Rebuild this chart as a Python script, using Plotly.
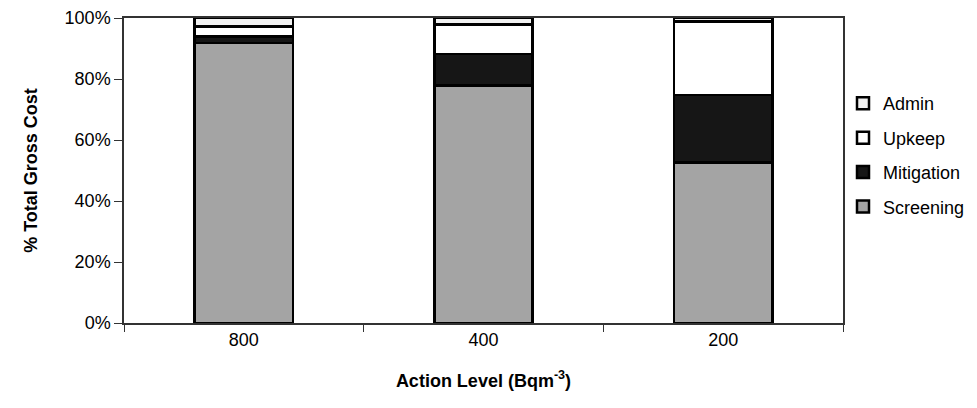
import plotly.graph_objects as go

# Action levels (Bq m^-3) and cost shares (% of total gross cost)
levels = ["800", "400", "200"]
screening = [91.8, 77.8, 52.6]
mitigation = [2.2, 10.4, 22.2]
upkeep = [3.2, 9.6, 24.0]
admin = [2.8, 2.2, 1.2]

series = [
    ("Screening", screening, "#a4a4a4", 4),
    ("Mitigation", mitigation, "#161616", 3),
    ("Upkeep", upkeep, "#ffffff", 2),
    ("Admin", admin, "#f1f1f1", 1),
]

fig = go.Figure()
for name, vals, col, rank in series:
    fig.add_trace(go.Bar(
        x=levels, y=vals, name=name, legendgroup=name, legendrank=rank,
        marker=dict(color=col, line=dict(color="#000000", width=2.5)),
        width=0.41,
    ))

family = "Liberation Sans, Arial, sans-serif"
axis_font = dict(family=family, size=18, color="#000000")
title_font = dict(family=family, size=18, color="#000000")

fig.update_layout(
    barmode="stack",
    width=977, height=408,
    margin=dict(l=124, r=134, t=18, b=85, autoexpand=False),
    paper_bgcolor="#ffffff", plot_bgcolor="#ffffff",
    font=axis_font,
    showlegend=True,
    legend=dict(
        traceorder="grouped",
        x=1.0, y=0.78, xanchor="left", yanchor="top",
        bgcolor="rgba(0,0,0,0)",
        font=dict(family=family, size=18, color="#000000"),
        itemwidth=30, tracegroupgap=8,
    ),
    xaxis=dict(
        type="category",
        range=[-0.5, 2.5],
        showline=True, linecolor="#333333", linewidth=1.5, mirror=True,
        ticks="outside", tickson="boundaries", ticklen=7, tickcolor="#333333",
        showgrid=False,
        tickfont=axis_font,
        title=dict(text="<b>Action Level (Bqm<sup>-3</sup>)</b>", font=title_font, standoff=25),
    ),
    yaxis=dict(
        range=[0, 100],
        tickvals=[0, 20, 40, 60, 80, 100],
        ticktext=["0%", "20%", "40%", "60%", "80%", "100%"],
        showline=True, linecolor="#333333", linewidth=1.5, mirror=True,
        ticks="outside", ticklen=8, tickcolor="#333333",
        showgrid=False, zeroline=False,
        tickfont=axis_font,
        title=dict(text="<b>% Total Gross Cost</b>", font=title_font, standoff=22),
    ),
)

fig.write_html("out.html")
